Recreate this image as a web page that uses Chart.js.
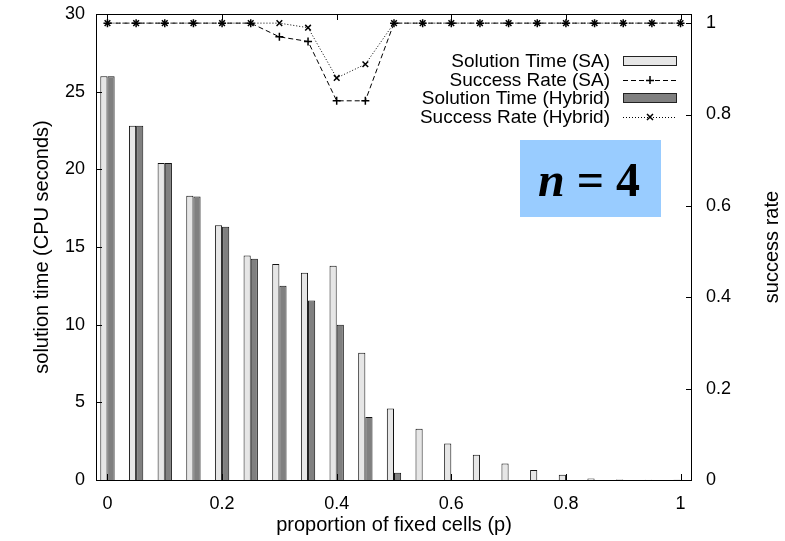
<!DOCTYPE html>
<html>
<head>
<meta charset="utf-8">
<script src="https://cdn.jsdelivr.net/npm/chart.js@4"></script>
<style>
  html, body { margin: 0; padding: 0; background: #fff; }
  #wrap { width: 785px; height: 541px; position: relative; }
</style>
</head>
<body>
<div id="wrap"><canvas id="chart"></canvas></div>
<script>
/* ---- Data ---- */
const P_VALUES = [0, 0.05, 0.1, 0.15, 0.2, 0.25, 0.3, 0.35, 0.4, 0.45, 0.5,
                  0.55, 0.6, 0.65, 0.7, 0.75, 0.8, 0.85, 0.9, 0.95, 1];
const SA_TIME  = [26.0, 22.8, 20.4, 18.3, 16.4, 14.45, 13.9, 13.35, 13.8, 8.2, 4.6,
                  3.3, 2.35, 1.63, 1.07, 0.64, 0.34, 0.09, 0.03, 0.02, 0.01];
const HY_TIME  = [26.0, 22.8, 20.4, 18.25, 16.3, 14.25, 12.5, 11.55, 10.0, 4.05, 0.47,
                  0, 0, 0, 0, 0, 0, 0, 0, 0, 0];
const SA_RATE  = [1, 1, 1, 1, 1, 1, 0.97, 0.96, 0.83, 0.83, 1,
                  1, 1, 1, 1, 1, 1, 1, 1, 1, 1];
const HY_RATE  = [1, 1, 1, 1, 1, 1, 1, 0.99, 0.88, 0.91, 1,
                  1, 1, 1, 1, 1, 1, 1, 1, 1, 1];

const X_TICKS  = [0, 0.2, 0.4, 0.6, 0.8, 1];
const Y_TICKS  = [0, 5, 10, 15, 20, 25, 30];
const Y2_TICKS = [0, 0.2, 0.4, 0.6, 0.8, 1];

const LEGEND_LABELS = ['Solution Time (SA)', 'Success Rate (SA)', 'Solution Time (Hybrid)', 'Success Rate (Hybrid)'];

/* ---- Style ---- */
const FONT = 'Liberation Sans, Arial, sans-serif';
const SERIF = 'Liberation Serif, DejaVu Serif, serif';
const SA_FILL = '#e6e6e6';
const HY_FILL = '#808080';
const DASH_SA = [5, 3];
const DASH_HY = [1, 2];

const pts = arr => P_VALUES.map((p, i) => ({ x: p, y: arr[i] }));
const fmt = v => String(Math.round(v * 10) / 10);

// fixed axis box sizes, no label overhang padding
const fixBox = (w, h) => s => {
  if (w != null) s.width = w;
  if (h != null) s.height = h;
  s.paddingTop = s.paddingBottom = s.paddingLeft = s.paddingRight = 0;
};

/* ---- Frame, inward ticks, titles, legend, label box ---- */
const decorPlugin = {
  id: 'decor',
  afterDraw(chart) {
    const { ctx, chartArea: a, scales } = chart;
    const T = 6;
    ctx.save();
    ctx.strokeStyle = '#000';
    ctx.lineWidth = 1;
    ctx.setLineDash([]);
    ctx.strokeRect(a.left + 0.5, a.top + 0.5, a.right - a.left - 1, a.bottom - a.top);

    ctx.beginPath();
    X_TICKS.forEach(v => {
      const x = Math.round(scales.x.getPixelForValue(v)) + 0.5;
      ctx.moveTo(x, a.bottom); ctx.lineTo(x, a.bottom - T);
      ctx.moveTo(x, a.top); ctx.lineTo(x, a.top + T);
    });
    Y_TICKS.forEach(v => {
      const y = Math.round(scales.y.getPixelForValue(v)) + 0.5;
      ctx.moveTo(a.left, y); ctx.lineTo(a.left + T, y);
    });
    Y2_TICKS.forEach(v => {
      const y = Math.round(scales.y2.getPixelForValue(v)) + 0.5;
      ctx.moveTo(a.right, y); ctx.lineTo(a.right - T, y);
    });
    ctx.stroke();

    // axis titles
    ctx.fillStyle = '#000';
    ctx.font = '20px ' + FONT;
    ctx.textAlign = 'center';
    ctx.textBaseline = 'alphabetic';
    ctx.fillText('proportion of fixed cells (p)', (a.left + a.right) / 2, 531);
    const midY = (a.top + a.bottom) / 2;
    ctx.save();
    ctx.translate(48, midY);
    ctx.rotate(-Math.PI / 2);
    ctx.fillText('solution time (CPU seconds)', 0, 0);
    ctx.restore();
    ctx.save();
    ctx.translate(778, midY);
    ctx.rotate(-Math.PI / 2);
    ctx.fillText('success rate', 0, 0);
    ctx.restore();

    // legend
    const rows = [67, 85.5, 104, 122.5];
    const tx = 610, sx0 = 623, sx1 = 677;
    ctx.font = '19px ' + FONT;
    ctx.textAlign = 'right';
    LEGEND_LABELS.forEach((lbl, i) => {
      const y = rows[i];
      const my = Math.round(y - 6);
      ctx.fillStyle = '#000';
      ctx.fillText(lbl, tx, y);
      if (i === 0 || i === 2) {
        ctx.fillStyle = i === 0 ? SA_FILL : HY_FILL;
        ctx.fillRect(sx0, my - 5, sx1 - sx0, 10);
        ctx.strokeStyle = '#222';
        ctx.strokeRect(sx0 + 0.5, my - 4.5, sx1 - sx0 - 1, 9);
      } else {
        ctx.strokeStyle = '#000';
        ctx.setLineDash(i === 1 ? DASH_SA : DASH_HY);
        ctx.beginPath();
        ctx.moveTo(sx0, my + 0.5); ctx.lineTo(sx1, my + 0.5);
        ctx.stroke();
        ctx.setLineDash([]);
        const cx = (sx0 + sx1) / 2, r = 4;
        ctx.lineWidth = 1.5;
        ctx.beginPath();
        if (i === 1) {
          ctx.moveTo(cx - r, my + 0.5); ctx.lineTo(cx + r, my + 0.5);
          ctx.moveTo(cx, my - r); ctx.lineTo(cx, my + r);
        } else {
          const d = r * 0.75;
          ctx.moveTo(cx - d, my - d); ctx.lineTo(cx + d, my + d);
          ctx.moveTo(cx - d, my + d); ctx.lineTo(cx + d, my - d);
        }
        ctx.stroke();
        ctx.lineWidth = 1;
      }
    });

    // n = 4 box
    ctx.fillStyle = '#99ccff';
    ctx.fillRect(520, 140, 141, 77);
    ctx.fillStyle = '#000';
    ctx.textAlign = 'left';
    const base = 196;
    const italic = 'italic bold 48px ' + SERIF;
    const upright = 'bold 48px ' + SERIF;
    const rest = ' = 4';
    ctx.font = italic;
    const nW = ctx.measureText('n').width;
    ctx.font = upright;
    const total = nW + ctx.measureText(rest).width;
    const start = 589 - total / 2;
    ctx.font = italic;
    ctx.fillText('n', start, base);
    ctx.font = upright;
    ctx.fillText(rest, start + nW, base);
    ctx.restore();
  }
};

/* ---- Chart ---- */
new Chart(document.getElementById('chart').getContext('2d'), {
  type: 'bar',
  data: {
    datasets: [
      {
        label: LEGEND_LABELS[0], data: pts(SA_TIME), yAxisID: 'y',
        backgroundColor: SA_FILL, borderColor: '#111', borderWidth: 1,
        categoryPercentage: 0.5, barPercentage: 1.0, order: 2
      },
      {
        label: LEGEND_LABELS[2], data: pts(HY_TIME), yAxisID: 'y',
        backgroundColor: HY_FILL, borderColor: '#111', borderWidth: 1,
        categoryPercentage: 0.5, barPercentage: 1.0, order: 3
      },
      {
        type: 'line', label: LEGEND_LABELS[1], data: pts(SA_RATE), yAxisID: 'y2',
        borderColor: '#000', borderWidth: 1, borderDash: DASH_SA,
        pointStyle: 'cross', pointRadius: 4, pointBorderWidth: 1.5,
        pointBorderColor: '#000', fill: false, tension: 0, order: 1
      },
      {
        type: 'line', label: LEGEND_LABELS[3], data: pts(HY_RATE), yAxisID: 'y2',
        borderColor: '#000', borderWidth: 1, borderDash: DASH_HY,
        pointStyle: 'crossRot', pointRadius: 4, pointBorderWidth: 1.5,
        pointBorderColor: '#000', fill: false, tension: 0, order: 0
      }
    ]
  },
  options: {
    responsive: true,
    maintainAspectRatio: false,
    animation: false,
    layout: { padding: { top: 14, left: 0, right: 0, bottom: 0 } },
    plugins: { legend: { display: false }, tooltip: { enabled: false } },
    scales: {
      x: {
        type: 'linear', min: -0.02, max: 1.02, offset: false,
        grid: { display: false, drawTicks: false, offset: false },
        border: { display: false },
        afterBuildTicks: s => { s.ticks = X_TICKS.map(v => ({ value: v })); },
        afterFit: fixBox(null, 61),
        ticks: { color: '#000', font: { family: FONT, size: 18 }, padding: 13, callback: fmt, maxRotation: 0 }
      },
      y: {
        position: 'left', min: 0, max: 30,
        grid: { display: false, drawTicks: false },
        border: { display: false },
        afterBuildTicks: s => { s.ticks = Y_TICKS.map(v => ({ value: v })); },
        afterFit: fixBox(96, null),
        ticks: { color: '#000', font: { family: FONT, size: 18 }, padding: 11 }
      },
      y2: {
        position: 'right', min: 0, max: 1.02,
        grid: { display: false, drawTicks: false },
        border: { display: false },
        afterBuildTicks: s => { s.ticks = Y2_TICKS.map(v => ({ value: v })); },
        afterFit: fixBox(93, null),
        ticks: { color: '#000', font: { family: FONT, size: 18 }, padding: 14, callback: fmt }
      }
    }
  },
  plugins: [decorPlugin]
});
</script>
</body>
</html>
